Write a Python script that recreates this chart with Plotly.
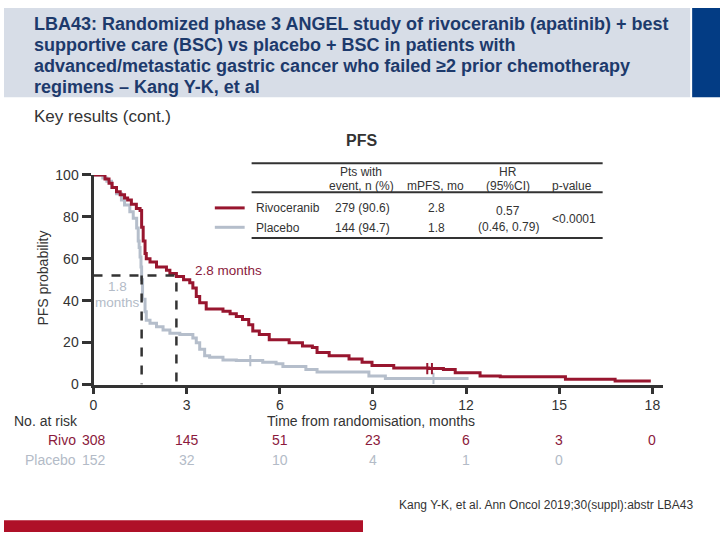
import plotly.graph_objects as go

# ---------------- data ----------------
rivo_t = [0, 0.37, 0.5, 0.6, 0.74, 0.86, 1.0, 1.1, 1.22, 1.38, 1.5, 1.55, 1.6, 1.66, 1.7, 1.82,
          2.03, 2.35, 2.46, 2.67, 2.9, 3.1, 3.2, 3.31, 3.42, 3.63, 4.17, 4.4, 4.6, 4.8, 5.0, 5.13,
          5.34, 5.66, 6.3, 6.73, 7.05, 7.2, 7.59, 8.23, 8.65, 8.97, 9.67, 10.8, 11.27, 11.65,
          12.45, 13.1, 15.2, 16.8, 17.95]
rivo_s = [100, 98, 96, 94, 92, 90.5, 89, 88, 86, 84, 83, 75, 68.5, 62.5, 60, 58.5,
          56, 54.5, 53, 51.5, 50, 48.5, 46, 42, 39, 36, 35, 33.8, 32.5, 31, 28.5, 25.5,
          23.8, 21.4, 19.9, 18.4, 17.6, 15.3, 13.7, 12.2, 10.6, 9.1, 7.9, 7.6, 7.1, 5.6,
          4.0, 3.7, 2.5, 1.7, 1.7]

plac_t = [0, 0.3, 0.43, 0.58, 0.74, 0.9, 1.0, 1.17, 1.28, 1.39, 1.44, 1.47, 1.5, 1.53, 1.55,
          1.58, 1.66, 1.7, 1.82, 2.03, 2.24, 2.46, 2.78, 3.2, 3.31, 3.42, 3.58, 3.74, 4.17,
          4.6, 5.45, 5.88, 6.1, 6.84, 7.2, 8.87, 9.4, 12.08]
plac_s = [100, 98.5, 97, 94, 91, 88, 85.6, 82.4, 79.3, 74.7, 68.5, 65.4, 60.8, 56, 50,
          40.7, 34.7, 30.7, 29.2, 27.6, 26, 24.5, 23.8, 22.2, 19.9, 16.8, 13.7, 13, 11.7,
          11.4, 10.6, 9.9, 8.6, 7.1, 6.0, 4.0, 2.9, 2.9]

# censoring ticks
rivo_cens_t = [10.75, 10.9]
rivo_cens_s = [7.6, 7.6]
plac_cens_t = [5.05, 10.95]
plac_cens_s = [11.4, 2.9]

median_rivo = 2.67
median_plac = 1.55
median_level = 52

x_ticks = [0, 3, 6, 9, 12, 15, 18]
y_ticks = [0, 20, 40, 60, 80, 100]
risk_rivo = ["308", "145", "51", "23", "6", "3", "0"]
risk_plac = ["152", "32", "10", "4", "1", "0"]

title_lines = [
    "LBA43: Randomized phase 3 ANGEL study of rivoceranib (apatinib) + best",
    "supportive care (BSC) vs placebo + BSC in patients with",
    "advanced/metastatic gastric cancer who failed ≥2 prior chemotherapy",
    "regimens – Kang Y-K, et al",
]

# ---------------- styles ----------------
W, H = 720, 540
RED = "#98162F"
GREY = "#B5BECB"
DARK = "#333333"
NAVY = "#1D3A6C"
RED_TXT = "#8B1A3C"
GREY_TXT = "#B3BBC7"
FONT = "Liberation Sans, Arial, sans-serif"


def px(x):
    return x / W


def py(y):
    return 1 - y / H


fig = go.Figure()

fig.add_trace(go.Scatter(x=plac_t, y=plac_s, mode="lines", line=dict(color=GREY, width=3, shape="hv"),
                         showlegend=False, hoverinfo="skip"))
fig.add_trace(go.Scatter(x=plac_cens_t, y=plac_cens_s, mode="markers",
                         marker=dict(symbol="line-ns", size=8, line=dict(color=GREY, width=2)),
                         showlegend=False, hoverinfo="skip"))
fig.add_trace(go.Scatter(x=rivo_t, y=rivo_s, mode="lines", line=dict(color=RED, width=3, shape="hv"),
                         showlegend=False, hoverinfo="skip"))
fig.add_trace(go.Scatter(x=rivo_cens_t, y=rivo_cens_s, mode="markers",
                         marker=dict(symbol="line-ns", size=8, line=dict(color=RED, width=2)),
                         showlegend=False, hoverinfo="skip"))

# median dashed lines
fig.add_trace(go.Scatter(x=[0, median_rivo, median_rivo], y=[median_level, median_level, 0], mode="lines",
                         line=dict(color=DARK, width=2.5, dash="dash"), showlegend=False, hoverinfo="skip"))
fig.add_trace(go.Scatter(x=[median_plac, median_plac], y=[median_level, 0], mode="lines",
                         line=dict(color=DARK, width=2.5, dash="dash"), showlegend=False, hoverinfo="skip"))

x0, x1 = 90, 663
y0, y1 = 172, 388
xmax = 18 * (x1 - x0) / (652 - x0)

fig.update_xaxes(domain=[px(x0), px(x1)], range=[0, xmax], tickvals=x_ticks, ticks="outside",
                 ticklen=6, tickwidth=2.5, tickcolor=DARK, showline=True, linecolor=DARK, linewidth=3,
                 showgrid=False, zeroline=False, tickfont=dict(family=FONT, size=14, color=DARK))
fig.update_yaxes(domain=[py(y1), py(y0)], range=[0, 100], tickvals=y_ticks, ticks="outside",
                 ticklen=9, tickwidth=2.5, tickcolor=DARK, showline=True, linecolor=DARK, linewidth=3,
                 showgrid=False, zeroline=False, tickfont=dict(family=FONT, size=14, color=DARK))

shapes = []
# title band
shapes.append(dict(type="rect", xref="paper", yref="paper", x0=0, x1=px(690), y0=py(92), y1=1,
                   fillcolor="#D7DDE7", line=dict(width=0), layer="below"))
shapes.append(dict(type="rect", xref="paper", yref="paper", x0=px(692), x1=1, y0=py(92), y1=1,
                   fillcolor="#033C84", line=dict(width=0), layer="below"))
# bottom red bar
shapes.append(dict(type="rect", xref="paper", yref="paper", x0=0, x1=px(361), y0=0, y1=py(528),
                   fillcolor="#AF1028", line=dict(width=0)))
# table lines
for yy in [160, 190, 237]:
    shapes.append(dict(type="line", xref="paper", yref="paper", x0=px(249), x1=px(602), y0=py(yy), y1=py(yy),
                       line=dict(color=DARK, width=2)))
# legend swatches
shapes.append(dict(type="line", xref="paper", yref="paper", x0=px(212), x1=px(242), y0=py(206), y1=py(206),
                   line=dict(color=RED, width=3)))
shapes.append(dict(type="line", xref="paper", yref="paper", x0=px(212), x1=px(242), y0=py(226), y1=py(226),
                   line=dict(color=GREY, width=3)))

ann = []


def text(x, y, s, size=12, color=DARK, xanchor="left", bold=False):
    if bold:
        s = "<b>" + s + "</b>"
    ann.append(dict(x=px(x), y=py(y), xref="paper", yref="paper", text=s, showarrow=False,
                    xanchor=xanchor, yanchor="middle", font=dict(family=FONT, size=size, color=color)))


for i, line in enumerate(title_lines):
    text(28, 16 + i * 21.7, line, size=18, color=NAVY, bold=True)

text(28, 112, "Key results (cont.)", size=17, color=DARK)
text(359, 137, "PFS", size=16, color=DARK, xanchor="center", bold=True)

# table header
text(359, 169.5, "Pts with", size=12, xanchor="center")
text(359, 183.5, "event, n (%)", size=12, xanchor="center")
text(434, 183.5, "mPFS, mo", size=12, xanchor="center")
text(507, 169.5, "HR", size=12, xanchor="center")
text(507, 183.5, "(95%CI)", size=12, xanchor="center")
text(571, 183.5, "p-value", size=12, xanchor="center")
# rows
text(251, 206, "Rivoceranib", size=12)
text(251, 227, "Placebo", size=12)
text(360, 206, "279 (90.6)", size=12, xanchor="center")
text(360, 227, "144 (94.7)", size=12, xanchor="center")
text(435, 206, "2.8", size=12, xanchor="center")
text(435, 227, "1.8", size=12, xanchor="center")
text(507, 209.5, "0.57", size=12, xanchor="center")
text(507, 225.5, "(0.46, 0.79)", size=12, xanchor="center")
text(573, 217, "<0.0001", size=12, xanchor="center")

# in-plot labels
text(226, 271, "2.8 months", size=13.5, color=RED_TXT, xanchor="center")
text(114, 287, "1.8", size=13.5, color=GREY_TXT, xanchor="center")
text(114, 303, "months", size=13.5, color=GREY_TXT, xanchor="center")

# y-axis title
ann.append(dict(x=px(39), y=py(278), xref="paper", yref="paper", text="PFS probability", showarrow=False,
                textangle=-90, xanchor="center", yanchor="middle", font=dict(family=FONT, size=14, color=DARK)))

# at-risk table
text(8, 426, "No. at risk", size=14)
text(369, 426, "Time from randomisation, months", size=14, xanchor="center")
text(74, 445, "Rivo", size=14, color=RED_TXT, xanchor="right")
text(74, 466, "Placebo", size=14, color=GREY_TXT, xanchor="right")


def tx(t):
    return x0 + t * (652 - x0) / 18


for t, v in zip(x_ticks, risk_rivo):
    text(tx(t), 445, v, size=14, color=RED_TXT, xanchor="center")
for t, v in zip(x_ticks, risk_plac):
    text(tx(t), 466, v, size=14, color=GREY_TXT, xanchor="center")

text(395, 512, "Kang Y-K, et al. Ann Oncol 2019;30(suppl):abstr LBA43", size=12, color=DARK)

fig.update_layout(width=W, height=H, margin=dict(l=0, r=0, t=0, b=0), plot_bgcolor="white",
                  paper_bgcolor="white", shapes=shapes, annotations=ann, showlegend=False)

fig.write_html("out.html", config={"displayModeBar": False},
               post_script="document.body.style.margin='0';document.body.style.overflow='hidden';")
